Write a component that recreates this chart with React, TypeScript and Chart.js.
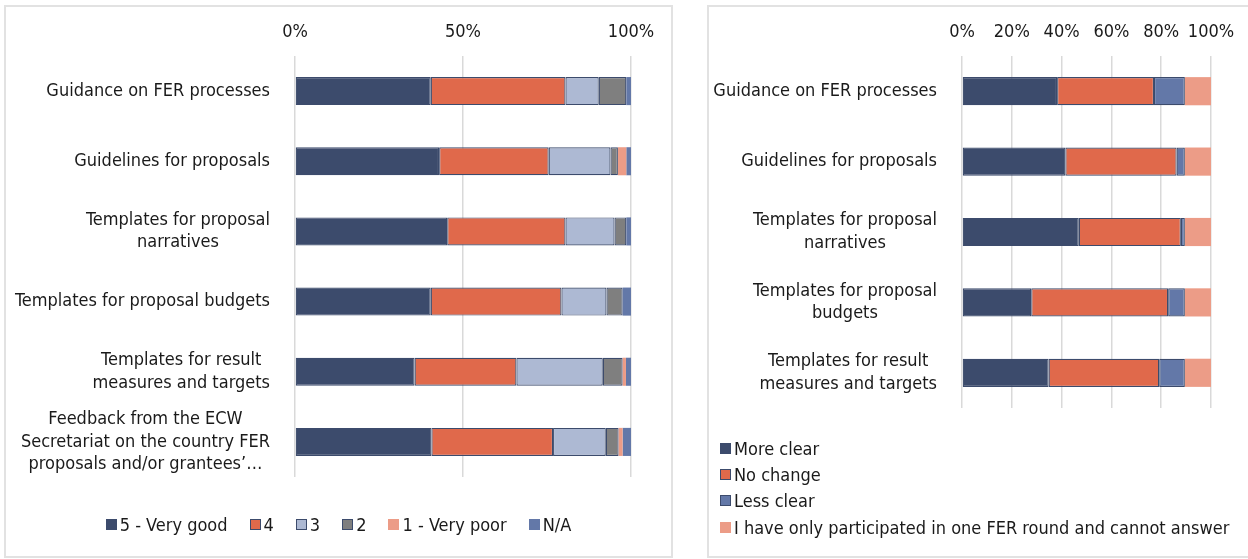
import React, { useEffect, useRef } from "react";
import { Chart, registerables } from "chart.js";

Chart.register(...registerables);

const FONT = "'DejaVu Sans Condensed', 'DejaVu Sans', sans-serif";
const FONT_SIZE = 18;
const TEXT = "#1a1a1a";
const NAVY = "#3C4B6C";
const GRID = "#D9D9D9";

// ---------- Left chart data ----------
const leftCategories: string[][] = [
  ["Guidance on FER processes"],
  ["Guidelines for proposals"],
  ["Templates for proposal", "narratives"],
  ["Templates for proposal budgets"],
  ["Templates for result", "measures and targets"],
  ["Feedback from the ECW", "Secretariat on the country FER", "proposals and/or grantees’…"],
];
const leftSeriesNames = ["5 - Very good", "4", "3", "2", "1 - Very poor", "N/A"];
const leftVeryGood = [40.4, 42.9, 45.3, 40.4, 35.6, 40.6];
const leftFour = [40.1, 32.6, 35.2, 38.9, 30.3, 36.2];
const leftThree = [9.9, 18.4, 14.6, 13.4, 25.7, 15.7];
const leftTwo = [8.2, 2.2, 3.5, 4.8, 5.9, 3.8];
const leftVeryPoor = [0, 2.5, 0, 0, 1.0, 1.2];
const leftNA = [1.4, 1.4, 1.4, 2.5, 1.5, 2.5];
const leftColors = ["#3C4B6C", "#E0694B", "#ADB9D3", "#7F7F7F", "#EC9C87", "#6378A8"];
const leftBordered = [true, true, true, true, false, false];
const leftTickStep = 50;

// ---------- Right chart data ----------
const rightCategories: string[][] = [
  ["Guidance on FER processes"],
  ["Guidelines for proposals"],
  ["Templates for proposal", "narratives"],
  ["Templates for proposal", "budgets"],
  ["Templates for result", "measures and targets"],
];
const rightSeriesNames = [
  "More clear",
  "No change",
  "Less clear",
  "I have only participated in one FER round and cannot answer",
];
const rightMoreClear = [38.2, 41.5, 46.9, 27.8, 34.8];
const rightNoChange = [38.9, 44.7, 41.0, 55.0, 44.4];
const rightLessClear = [12.4, 3.3, 1.6, 6.7, 10.3];
const rightOneRound = [10.5, 10.5, 10.5, 10.5, 10.5];
const rightColors = ["#3C4B6C", "#E0694B", "#6378A8", "#EC9C87"];
const rightBordered = [true, true, true, false];
const rightTickStep = 20;

const yLabelPlugin = {
  id: "yLabels",
  afterDraw(chart: any, _args: any, opts: any) {
    const { ctx, chartArea, scales } = chart;
    const y = scales.y;
    const labels = chart.data.labels as string[][];
    ctx.save();
    ctx.font = `${FONT_SIZE}px ${FONT}`;
    ctx.fillStyle = TEXT;
    ctx.textAlign = "center";
    ctx.textBaseline = "middle";
    labels.forEach((lab, i) => {
      const lines = Array.isArray(lab) ? lab : [lab];
      const widest = Math.max(...lines.map((l) => ctx.measureText(l).width));
      const cx = chartArea.left - opts.gap - widest / 2;
      const cy = y.getPixelForValue(i);
      lines.forEach((l, j) =>
        ctx.fillText(l, cx, cy + (j - (lines.length - 1) / 2) * opts.lineHeight)
      );
    });
    ctx.restore();
  },
};

type PanelProps = {
  labels: string[][];
  names: string[];
  series: number[][];
  colors: string[];
  bordered: boolean[];
  step: number;
  width: number;
  height: number;
  yWidth: number;
  padRight: number;
  padBottom: number;
};

function BarPanel(p: PanelProps) {
  const ref = useRef<HTMLCanvasElement | null>(null);
  useEffect(() => {
    if (!ref.current) return;
    const chart = new Chart(ref.current, {
      type: "bar",
      data: {
        labels: p.labels as any,
        datasets: p.series.map((d, i) => ({
          label: p.names[i],
          data: d,
          backgroundColor: p.colors[i],
          borderColor: NAVY,
          borderWidth: p.bordered[i] ? 1.2 : 0,
          borderSkipped: false,
          categoryPercentage: 1,
          barPercentage: 0.4,
        })),
      },
      options: {
        indexAxis: "y",
        responsive: false,
        maintainAspectRatio: false,
        animation: false,
        layout: { padding: { left: 0, top: 0, right: p.padRight, bottom: p.padBottom } },
        plugins: {
          legend: { display: false },
          tooltip: { enabled: false },
          yLabels: { gap: 25, lineHeight: 22.5 },
        } as any,
        scales: {
          x: {
            position: "top",
            stacked: true,
            min: 0,
            max: 100,
            ticks: {
              stepSize: p.step,
              padding: 13,
              color: TEXT,
              maxRotation: 0,
              minRotation: 0,
              autoSkip: false,
              font: { family: FONT, size: FONT_SIZE },
              callback: (v: any) => `${v}%`,
            },
            grid: { color: GRID, lineWidth: 1.5, drawTicks: false },
            border: { display: false },
            afterFit: (s: any) => {
              s.height = 56;
            },
          },
          y: {
            stacked: true,
            ticks: { display: false },
            grid: { display: false },
            border: { display: false },
            afterFit: (s: any) => {
              s.width = p.yWidth;
            },
          },
        },
      },
      plugins: [yLabelPlugin],
    });
    return () => chart.destroy();
  }, []);
  return (
    <canvas
      ref={ref}
      width={p.width}
      height={p.height}
      style={{ display: "block", width: p.width, height: p.height }}
    />
  );
}

function LegendBox({ color, bordered }: { color: string; bordered: boolean }) {
  return (
    <span
      style={{
        display: "inline-block",
        width: 11,
        height: 11,
        boxSizing: "border-box",
        background: color,
        border: bordered ? `1px solid ${NAVY}` : "none",
        marginRight: 3,
        flex: "none",
      }}
    />
  );
}

export default function App() {
  const panelBorder = "2px solid #E2E2E2";
  return (
    <div
      style={{
        position: "fixed",
        left: 0,
        top: 0,
        width: 1248,
        height: 559,
        background: "#fff",
        fontFamily: FONT,
        color: TEXT,
        overflow: "hidden",
      }}
    >
      <div
        style={{
          position: "absolute",
          left: 4,
          top: 5,
          width: 669,
          height: 553,
          border: panelBorder,
          boxSizing: "border-box",
        }}
      />
      <div
        style={{
          position: "absolute",
          left: 707,
          top: 5,
          width: 560,
          height: 553,
          border: panelBorder,
          boxSizing: "border-box",
        }}
      />
      <div style={{ position: "absolute", left: 0, top: 0 }}>
        <BarPanel
          labels={leftCategories}
          names={leftSeriesNames}
          series={[leftVeryGood, leftFour, leftThree, leftTwo, leftVeryPoor, leftNA]}
          colors={leftColors}
          bordered={leftBordered}
          step={leftTickStep}
          width={690}
          height={559}
          yWidth={295}
          padRight={59}
          padBottom={82}
        />
      </div>
      <div style={{ position: "absolute", left: 690, top: 0 }}>
        <BarPanel
          labels={rightCategories}
          names={rightSeriesNames}
          series={[rightMoreClear, rightNoChange, rightLessClear, rightOneRound]}
          colors={rightColors}
          bordered={rightBordered}
          step={rightTickStep}
          width={558}
          height={559}
          yWidth={272}
          padRight={37}
          padBottom={151}
        />
      </div>
      <div
        style={{
          position: "absolute",
          left: 5,
          width: 667,
          top: 513,
          height: 22,
          display: "flex",
          justifyContent: "center",
          alignItems: "center",
          fontSize: FONT_SIZE,
          gap: 22,
          whiteSpace: "nowrap",
        }}
      >
        {leftSeriesNames.map((n, i) => (
          <span key={n} style={{ display: "flex", alignItems: "center" }}>
            <LegendBox color={leftColors[i]} bordered={leftBordered[i]} />
            {n}
          </span>
        ))}
      </div>
      <div
        style={{
          position: "absolute",
          left: 720,
          top: 435,
          fontSize: FONT_SIZE,
          whiteSpace: "nowrap",
        }}
      >
        {rightSeriesNames.map((n, i) => (
          <div key={n} style={{ display: "flex", alignItems: "center", height: 26.3 }}>
            <LegendBox color={rightColors[i]} bordered={rightBordered[i]} />
            {n}
          </div>
        ))}
      </div>
    </div>
  );
}
